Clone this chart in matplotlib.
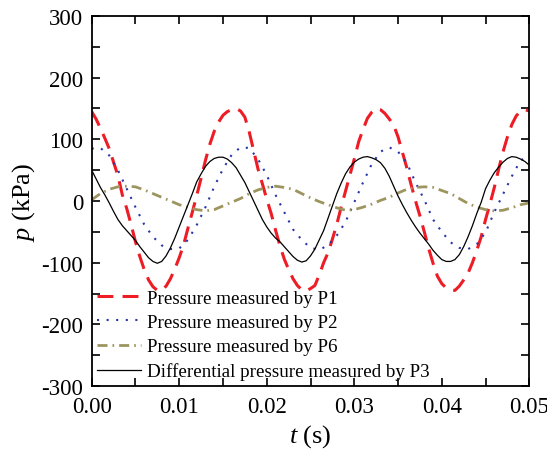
import numpy as np
import matplotlib
matplotlib.use("Agg")
import matplotlib.pyplot as plt
from matplotlib.ticker import MultipleLocator, FormatStrFormatter

plt.rcParams['font.family'] = ['Liberation Serif', 'DejaVu Serif']
plt.rcParams['mathtext.fontset'] = 'custom'
plt.rcParams['mathtext.rm'] = 'Liberation Serif'
plt.rcParams['mathtext.it'] = 'Liberation Serif:italic'
plt.rcParams['axes.unicode_minus'] = False

# time grids (s)
t_fine = np.round(np.arange(0, 101) * 0.0005, 4)
t_coarse = np.round(np.arange(0, 51) * 0.001, 4)

# Pressure measured by P1 (kPa), step 0.0005 s
p1 = [145, 133, 118, 102, 85, 63, 41, 10, -12, -38,
      -66, -90, -111, -128, -139, -145, -145, -138, -126, -110,
      -92, -71, -44, -18, 9, 37, 66, 92, 113, 128,
      139, 145, 148, 150, 146, 136, 112, 82, 52, 28,
      3, -20, -47, -72, -94, -111, -126, -137, -144, -146,
      -142, -137, -120, -100, -84, -62, -38, -10, 16, 42,
      68, 96, 116, 134, 144, 150, 148, 142, 133, 123,
      104, 79, 54, 26, 0, -24, -50, -77, -101, -122,
      -134, -141, -144, -145, -138, -128, -117, -100, -80, -58,
      -30, -5, 22, 52, 80, 104, 124, 138, 146, 148,
      146]

# Pressure measured by P2 (kPa), step 0.001 s
p2 = [85, 86, 74, 50, 20, -10, -38, -58, -72, -78,
      -77, -63, -39, -10, 23, 52, 75, 87, 86, 68,
      42, 10, -18, -46, -63, -76, -79, -72, -56, -34,
      -2, 30, 60, 80, 87, 80, 62, 30, 2, -30,
      -50, -67, -76, -78, -70, -51, -18, 11, 40, 66,
      72]

# Pressure measured by P6 (kPa), step 0.001 s
p6 = [2, 12, 19, 23, 24, 23, 18, 12, 6, 0,
      -6, -10, -14, -16, -14, -8, -2, 4, 12, 18,
      22, 24, 22, 19, 12, 5, -1, -6, -11, -15,
      -14, -10, -5, 1, 6, 13, 19, 22, 23, 22,
      17, 12, 4, -4, -10, -14, -16, -15, -11, -6,
      -3]

# Differential pressure measured by P3 (kPa), step 0.0005 s
p3 = [50, 36, 22, 10, -3, -17, -30, -40, -48, -56,
      -64, -74, -83, -92, -98, -101, -98, -89, -76, -60,
      -42, -24, -6, 12, 31, 44, 56, 64, 69, 71,
      71, 68, 62, 54, 42, 30, 15, 0, -15, -30,
      -42, -52, -60, -66, -74, -82, -90, -96, -99, -97,
      -89, -78, -63, -48, -28, -8, 12, 29, 44, 55,
      63, 68, 71, 72, 70, 67, 62, 53, 40, 24,
      8, -6, -19, -31, -42, -52, -61, -70, -80, -88,
      -95, -98, -98, -95, -87, -74, -58, -40, -20, -2,
      20, 34, 46, 55, 63, 69, 72, 71, 68, 64,
      58]

labels = ["Pressure measured by P1", "Pressure measured by P2",
          "Pressure measured by P6", "Differential pressure measured by P3"]

fig = plt.figure(figsize=(5.47, 4.52), dpi=100)
ax = fig.add_axes([0.1676, 0.1438, 0.8001, 0.8186])

ax.plot(t_fine, p1, color='#ee1c25', lw=2.2, dashes=(5.2, 3.0), label=labels[0])
ax.plot(t_coarse, p2, color='#2a35a8', lw=1.5, dashes=(1, 3.6), label=labels[1])
ax.plot(t_coarse, p6, color='#9d9560', lw=2.0, dashes=(3.6, 1.8, 0.6, 1.8), label=labels[2])
ax.plot(t_fine, p3, color='black', lw=0.9, label=labels[3])

ax.set_xlim(0, 0.05)
ax.set_ylim(-300, 300)
ax.xaxis.set_major_locator(MultipleLocator(0.01))
ax.xaxis.set_minor_locator(MultipleLocator(0.005))
ax.yaxis.set_major_locator(MultipleLocator(100))
ax.yaxis.set_minor_locator(MultipleLocator(50))
ax.xaxis.set_major_formatter(FormatStrFormatter('%.2f'))

ax.tick_params(which='both', direction='in', top=True, right=True,
               width=1.2, labelsize=16.5, length=6)
ax.tick_params(axis='y', pad=6)
ax.tick_params(axis='x', pad=7)
for s in ax.spines.values():
    s.set_linewidth(1.3)

ax.set_xlabel(r'$t$ (s)', fontsize=19, labelpad=4)
ax.set_ylabel(r'$p$ (kPa)', fontsize=19, labelpad=3)

ax.legend(loc='lower left', frameon=False, fontsize=13.7, handlelength=2.3,
          handletextpad=0.3, labelspacing=0.37, borderaxespad=0.1,
          borderpad=0.2)

fig.savefig('out.png', dpi=100)
